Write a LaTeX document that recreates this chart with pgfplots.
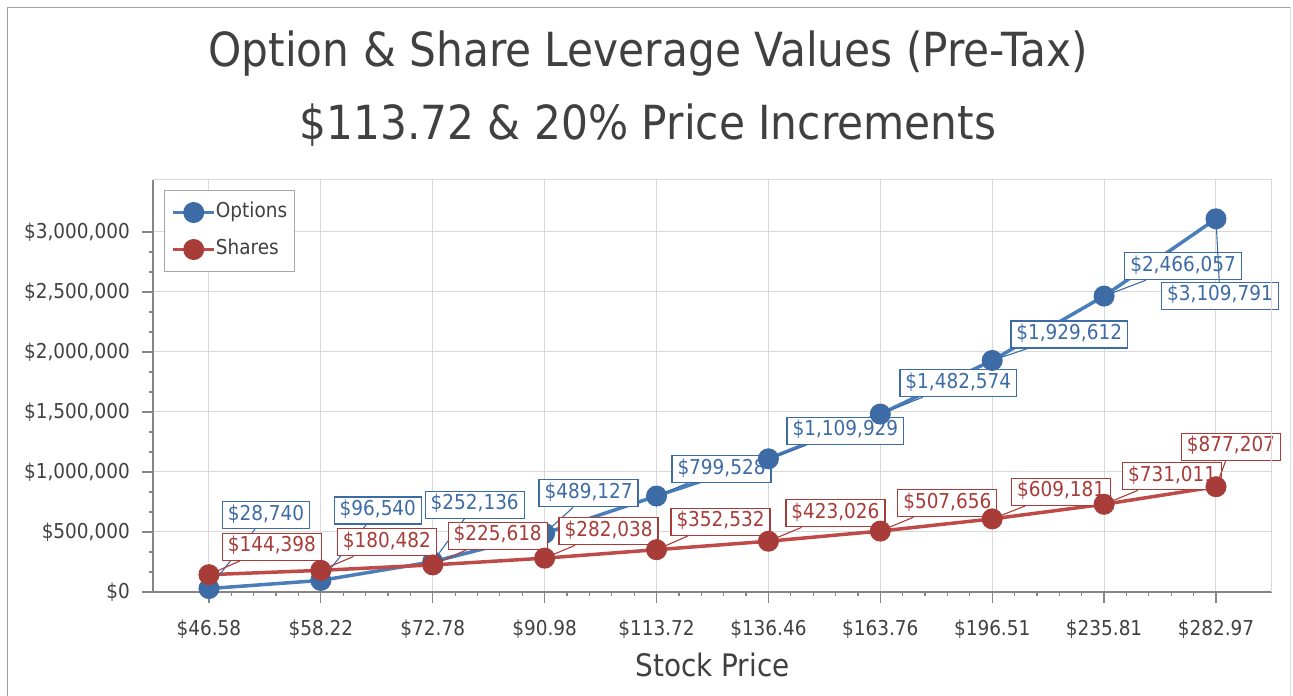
\documentclass[border=0pt]{standalone}
\usepackage{pgfplots}
\pgfplotsset{compat=1.18}
\usepackage{pgfplotstable}
\usepackage{fontspec}
\setmainfont{DejaVu Sans}[FakeStretch=0.9]

\definecolor{optline}{HTML}{4A7EBB}
\definecolor{optmark}{HTML}{3D6BA6}
\definecolor{shrline}{HTML}{BE4B48}
\definecolor{shrmark}{HTML}{A83C39}
\definecolor{txt}{HTML}{404040}
\definecolor{gridc}{HTML}{D9D9D9}
\definecolor{axisc}{HTML}{868686}

% x = price step, y = value, dx/dy = label offset (pt), lab = label text
\pgfplotstableread{
x y dx dy lab
0 28740 57 73.5 28,740
1 96540 57 70 96,540
2 252136 42 57 252,136
3 489127 44 40 489,127
4 799528 65 27 799,528
5 1109929 77 28 1,109,929
6 1482574 78 31 1,482,574
7 1929612 77 26 1,929,612
8 2466057 79 30 2,466,057
9 3109791 4 -77 3,109,791
}\options

\pgfplotstableread{
x y dx dy lab
0 144398 63 28 144,398
1 180482 66 28 180,482
2 225618 65 29 225,618
3 282038 64 27 282,038
4 352532 64 28 352,532
5 423026 67 28 423,026
6 507656 67 28 507,656
7 609181 69 27 609,181
8 731011 68 28 731,011
9 877207 15 40 877,207
}\shares

\newcommand{\smallfont}{\fontsize{20.5}{24}\selectfont}

\pgfplotsset{
  dlabel/.style={
    nodes near coords={\$\pgfplotspointmeta},
    point meta=explicit symbolic,
    visualization depends on={\thisrow{dx}\as\labdx},
    visualization depends on={\thisrow{dy}\as\labdy},
    every node near coord/.append style={
      anchor=center, xshift=\labdx pt, yshift=\labdy pt,
      draw=#1, fill=white, text=#1, line width=1.3pt,
      inner xsep=5.5pt, inner ysep=4.5pt, text height=14pt, text depth=4pt,
      font=\smallfont,
      append after command={(\tikzlastnode) edge[draw=#1, line width=1.1pt]
        ([xshift=-\labdx pt, yshift=-\labdy pt]\tikzlastnode.center)}
    },
  },
}

\begin{document}
\begin{tikzpicture}
\useasboundingbox (0pt,0pt) rectangle (1293pt,696pt);
\draw[gray!75, line width=1.2pt] (7.5pt,0pt) -- (7.5pt,688.5pt) -- (1290pt,688.5pt);
\draw[gray!25, line width=1pt] (1290pt,688.5pt) -- (1290pt,0pt);
\node[anchor=base, text=txt, font=\fontsize{47}{50}\selectfont] at (648pt,629pt)
  {Option \& Share Leverage Values (Pre-Tax)};
\node[anchor=base, text=txt, font=\fontsize{47}{50}\selectfont] at (648pt,556pt)
  {\$113.72 \& 20\% Price Increments};

\begin{axis}[
  at={(153pt,104pt)}, anchor=south west,
  scale only axis, width=1119pt, height=412pt,
  xmin=-0.5, xmax=9.5, ymin=0, ymax=3433333,
  axis x line*=bottom, axis y line*=left,
  axis line style={draw=axisc, line width=1.5pt},
  xtick={0,...,9},
  xticklabels={\$46.58,\$58.22,\$72.78,\$90.98,\$113.72,\$136.46,\$163.76,\$196.51,\$235.81,\$282.97},
  minor x tick num=4,
  ytick={0,500000,1000000,1500000,2000000,2500000,3000000},
  minor y tick num=2,
  scaled y ticks=false,
  yticklabel={\$\pgfmathprintnumber[assume math mode=true,fixed,precision=0,1000 sep={,}]{\tick}},
  tick align=outside,
  major tick length=11pt, minor tick length=4pt,
  every tick/.style={draw=axisc, line width=1.2pt},
  grid=major,
  major grid style={draw=gridc, line width=1pt},
  tick label style={font=\smallfont, text=txt},
  xticklabel style={anchor=base, yshift=-32pt},
  yticklabel style={anchor=east, inner sep=0pt, xshift=-12pt},
  xlabel={Stock Price},
  xlabel style={at={(axis description cs:0.5,0)}, anchor=base, yshift=-84pt,
    font=\fontsize{31}{36}\selectfont, text=txt},
  legend style={at={(axis description cs:0.0098,0.9757)}, anchor=north west,
    draw=gray!70, line width=1pt, fill=white, inner xsep=7pt, inner ysep=12pt,
    row sep=17pt, font=\smallfont,
    nodes={inner sep=0pt, text height=14pt, text depth=4pt, text=txt},
    /tikz/every even column/.style={column sep=9pt}},
  legend cell align=left,
  legend image code/.code={\draw[mark repeat=2,mark phase=2,#1]
    plot coordinates {(0pt,0pt) (20.5pt,0pt) (41pt,0pt)};},
  extra description/.code={\draw[gridc, line width=1pt]
    (rel axis cs:0,1) -- (rel axis cs:1,1) -- (rel axis cs:1,0);},
]
\addplot[optline, line width=3.5pt, mark=*, mark size=10pt,
  mark options={solid, fill=optmark, draw=optmark, line width=1pt},
  dlabel=optmark] table[x=x, y=y, meta=lab] {\options};
\addlegendentry{Options}
\addplot[shrline, line width=3.5pt, mark=*, mark size=10pt,
  mark options={solid, fill=shrmark, draw=shrmark, line width=1pt},
  dlabel=shrmark] table[x=x, y=y, meta=lab] {\shares};
\addlegendentry{Shares}
\end{axis}
\end{tikzpicture}
\end{document}
